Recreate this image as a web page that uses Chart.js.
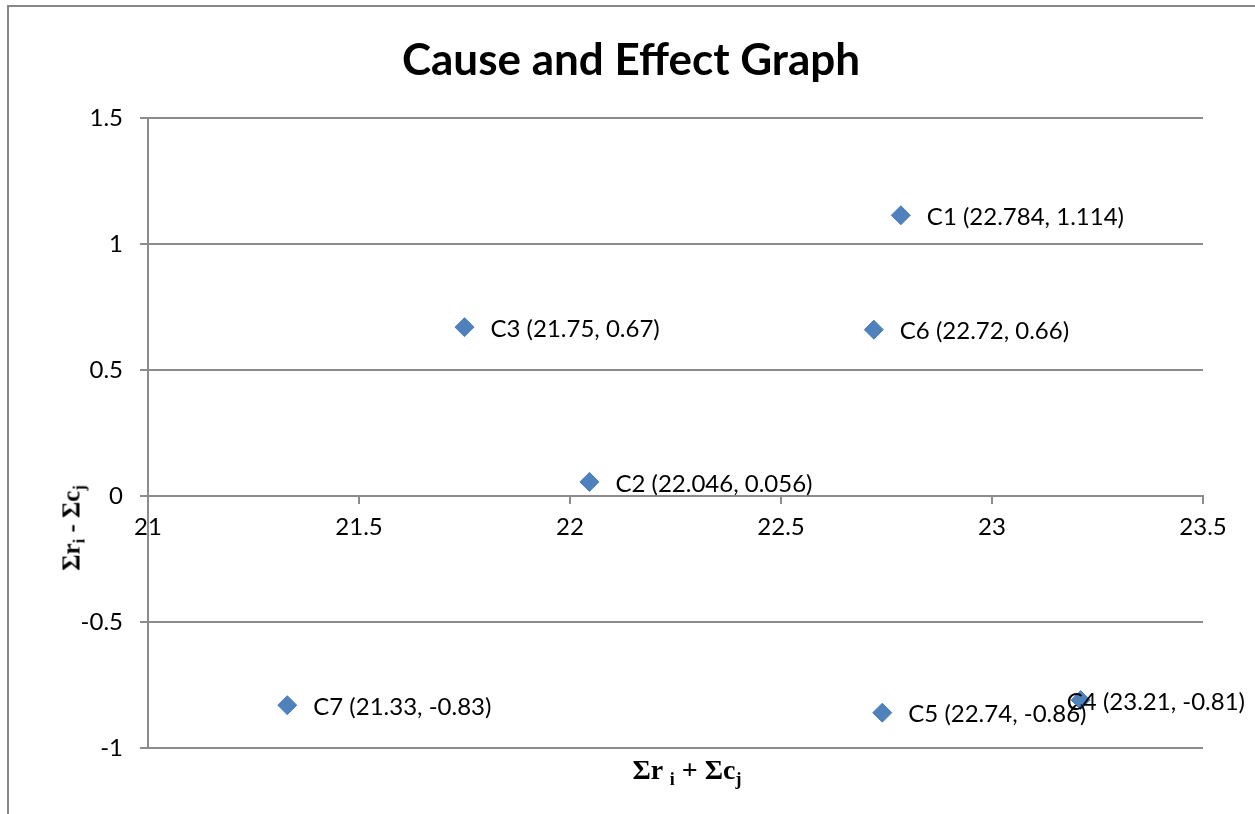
<!DOCTYPE html>
<html>
<head>
<meta charset="utf-8">
<script src="https://cdn.jsdelivr.net/npm/chart.js@4"></script>
<style>
html, body { margin: 0; padding: 0; background: #fff; overflow: hidden; }
#wrap { position: relative; width: 1255px; height: 814px; }
#frame { position: absolute; left: 7px; top: 5px; width: 1300px; height: 900px; border-left: 2px solid #878787; border-top: 2px solid #878787; }
canvas { position: absolute; left: 0; top: 0; }
.axisTitle { position: absolute; font-family: "Liberation Serif", serif; font-weight: bold; color: #000; white-space: nowrap; }
#xTitle { left: 687px; top: 772px; font-size: 28px; transform: translate(-50%, -50%); }
#xTitle sub { font-size: 18px; vertical-align: -6px; }
#yTitle { left: 73px; top: 528px; font-size: 25px; transform: translate(-50%, -50%) rotate(-90deg); }
#yTitle sub { font-size: 16px; vertical-align: -5px; }
</style>
</head>
<body>
<div id="wrap">
  <div id="frame"></div>
  <canvas id="scatterCause" width="1255" height="814"></canvas>
  <div class="axisTitle" id="xTitle">Σr <sub>i</sub> + Σc<sub>j</sub></div>
  <div class="axisTitle" id="yTitle">Σr<sub>i</sub> - Σc<sub>j</sub></div>
</div>
<script>
var names = ['C1', 'C2', 'C3', 'C4', 'C5', 'C6', 'C7']
var xValues = [22.784, 22.046, 21.75, 23.21, 22.74, 22.72, 21.33]
var yValues = [1.114, 0.056, 0.67, -0.81, -0.86, 0.66, -0.83]
var xTicks = [21, 21.5, 22, 22.5, 23, 23.5]
var yTicks = [-1, -0.5, 0, 0.5, 1, 1.5]

var gridColor = '#8c8c8c'
var tickFont = { family: 'Lato', size: 24 }

// labels "C1 (22.784, 1.114)" next to each point
var pointLabels = {
    id: 'pointLabels',
    afterDatasetsDraw: function (chart) {
        var ctx = chart.ctx
        var meta = chart.getDatasetMeta(0)
        ctx.save()
        ctx.font = '24px Lato'
        ctx.fillStyle = '#000'
        ctx.textBaseline = 'middle'
        ctx.textAlign = 'left'
        meta.data.forEach(function (pt, i) {
            var text = names[i] + ' (' + xValues[i] + ', ' + yValues[i] + ')'
            var w = ctx.measureText(text).width
            var x = pt.x + 26
            if (x + w > chart.width - 10) x = chart.width - 10 - w
            ctx.fillText(text, x, pt.y + 2)
        })
        ctx.restore()
    }
}

var points = xValues.map(function (x, i) { return { x: x, y: yValues[i] } })

new Chart(document.getElementById('scatterCause').getContext('2d'), {
    type: 'scatter',
    data: {
        datasets: [{
            data: points,
            pointStyle: 'rectRot',
            pointRadius: 9.5,
            pointHoverRadius: 9.5,
            backgroundColor: '#4F81BD',
            borderColor: '#4A7EBB',
            borderWidth: 1
        }]
    },
    options: {
        responsive: false,
        animation: false,
        layout: { padding: { top: 0, left: 59, right: 52, bottom: 66 } },
        plugins: {
            legend: { display: false },
            tooltip: { enabled: false },
            title: {
                display: true,
                text: 'Cause and Effect Graph',
                color: '#000',
                font: { family: 'Lato', size: 44, weight: 'bold' },
                padding: { top: 34.6, bottom: 30.6 }
            }
        },
        scales: {
            x: {
                type: 'linear',
                min: 21,
                max: 23.5,
                position: { y: 0 },
                afterBuildTicks: function (s) { s.ticks = xTicks.map(function (v) { return { value: v } }) },
                ticks: { color: '#000', font: tickFont, padding: 10, maxRotation: 0, autoSkip: false,
                    callback: function (v) { return String(v) } },
                grid: { drawOnChartArea: false, drawTicks: true, tickLength: 7, color: gridColor, lineWidth: 2 },
                border: { color: gridColor, width: 2 }
            },
            y: {
                type: 'linear',
                min: -1,
                max: 1.5,
                position: 'left',
                afterBuildTicks: function (s) { s.ticks = yTicks.map(function (v) { return { value: v } }) },
                afterFit: function (s) { s.width = 89 },
                ticks: { color: '#000', font: tickFont, padding: 17,
                    callback: function (v) { return String(v) } },
                grid: { color: gridColor, lineWidth: 2, tickLength: 8 },
                border: { color: gridColor, width: 2 }
            }
        }
    },
    plugins: [pointLabels]
})
</script>
</body>
</html>
